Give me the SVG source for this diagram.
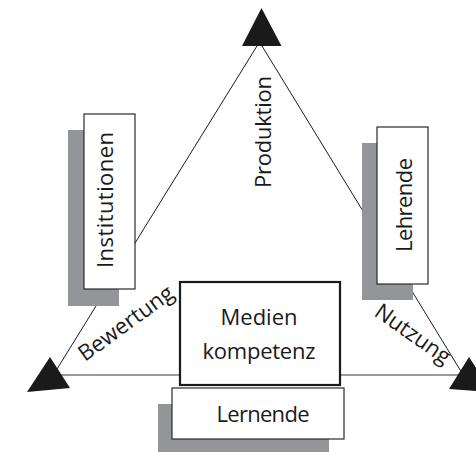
<svg xmlns="http://www.w3.org/2000/svg" width="476" height="452" viewBox="0 0 476 452">
<style>
.edge{stroke:#1a1a1a;stroke-width:1;fill:none}
.base{stroke:#7a7a7a;stroke-width:1.6;fill:none}
.tri{fill:#1a1a1a}
.shadow{fill:#939598}
.box{fill:#fff;stroke:#2a2a2a;stroke-width:1.2}
.box2{fill:#fff;stroke:#1a1a1a;stroke-width:2.2}
.lbl{font-family:"Open Sans","Noto Sans",sans-serif;font-size:22px;fill:#1a1a1a}
</style>
<rect width="476" height="452" fill="#fff"/>
<g id="connectors">
<path class="edge" d="M257,46 L57,369"/>
<path class="edge" d="M262,46 L462,373"/>
<path class="base" d="M60,375 L462,375"/>
</g>
<g id="vertex-top"><polygon class="tri" points="261.5,8 281.5,46 242,46"/></g>
<g id="vertex-left"><polygon class="tri" points="50,357 70,388 27,392"/></g>
<g id="vertex-right"><polygon class="tri" points="469,357 492,392 449,389"/></g>
<g id="produktion"><text class="lbl" text-anchor="middle" textLength="112" transform="translate(271,132) rotate(-90)">Produktion</text></g>
<g id="institutionen">
<rect class="shadow" x="68" y="130" width="51" height="176"/>
<rect class="box" x="84" y="114" width="51" height="175"/>
<text class="lbl" text-anchor="middle" textLength="136" transform="translate(113,200) rotate(-90)">Institutionen</text>
</g>
<g id="lehrende">
<rect class="shadow" x="362" y="143" width="51" height="157"/>
<rect class="box" x="377" y="127" width="51" height="157"/>
<text class="lbl" text-anchor="middle" textLength="94" transform="translate(412,205) rotate(-90)">Lehrende</text>
</g>
<g id="bewertung"><text class="lbl" transform="translate(85,362) rotate(-36)">Bewertung</text></g>
<g id="nutzung"><text class="lbl" transform="translate(373,315) rotate(35)">Nutzung</text></g>
<g id="medienkompetenz">
<rect class="box2" x="180" y="282" width="160" height="103"/>
<text class="lbl" text-anchor="middle" x="259" y="325">Medien</text>
<text class="lbl" text-anchor="middle" textLength="113" x="259" y="359">kompetenz</text>
</g>
<g id="lernende">
<rect class="shadow" x="158" y="404" width="171" height="50"/>
<rect class="box" x="172" y="388" width="172" height="51"/>
<text class="lbl" text-anchor="middle" textLength="93" x="263" y="422">Lernende</text>
</g>
</svg>
